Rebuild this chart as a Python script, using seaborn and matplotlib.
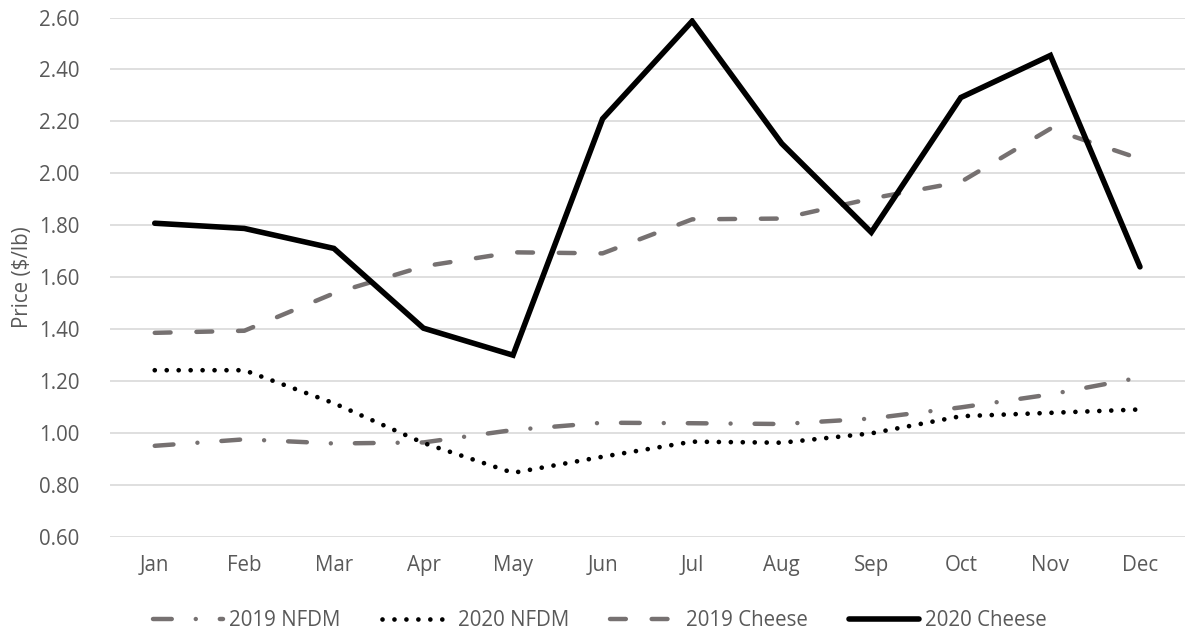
import matplotlib
matplotlib.use("Agg")
import matplotlib.pyplot as plt
import seaborn as sns
import pandas as pd

months = ["Jan", "Feb", "Mar", "Apr", "May", "Jun",
          "Jul", "Aug", "Sep", "Oct", "Nov", "Dec"]
nfdm_2019 = [0.951, 0.976, 0.960, 0.964, 1.012, 1.040,
             1.038, 1.035, 1.056, 1.099, 1.149, 1.214]
nfdm_2020 = [1.242, 1.242, 1.115, 0.962, 0.847, 0.909,
             0.967, 0.963, 0.999, 1.065, 1.078, 1.091]
cheese_2019 = [1.386, 1.394, 1.538, 1.642, 1.696, 1.692,
               1.823, 1.826, 1.903, 1.967, 2.172, 2.056]
cheese_2020 = [1.808, 1.788, 1.711, 1.404, 1.300, 2.210,
               2.586, 2.115, 1.773, 2.292, 2.454, 1.640]
y_ticks = [0.60, 0.80, 1.00, 1.20, 1.40, 1.60, 1.80, 2.00, 2.20, 2.40, 2.60]

sns.set_theme(style="white")
plt.rcParams["font.family"] = ["Open Sans", "DejaVu Sans"]
plt.rcParams["lines.scale_dashes"] = False

TEXT = "#595959"
GRAY = "#767171"
FS = 14.8

fig = plt.figure(figsize=(11.85, 6.37), dpi=100)
ax = fig.add_axes([0.0928, 0.157, 0.907, 0.8155])

series = [
    ("2019 NFDM", nfdm_2019, GRAY, 3.2, (13.5, 17.3, 0.01, 17.3)),
    ("2020 NFDM", nfdm_2020, "black", 3.4, (0.01, 8.6)),
    ("2019 Cheese", cheese_2019, GRAY, 3.2, (11.4, 18.6)),
    ("2020 Cheese", cheese_2020, "black", 4.0, None),
]

handles = []
for name, vals, color, lw, dash in series:
    df = pd.DataFrame({"month": months, "price": vals})
    sns.lineplot(data=df, x="month", y="price", ax=ax, color=color,
                 linewidth=lw, sort=False, legend=False)
    line = ax.lines[-1]
    line.set_label(name)
    line.set_solid_capstyle("round")
    line.set_solid_joinstyle("miter")
    if dash is not None:
        line.set_dashes(dash)
        line.set_dash_capstyle("round")
    handles.append(line)

ax.set_xlim(-0.5, len(months) - 0.5)
ax.set_ylim(0.6, 2.6)
ax.set_yticks(y_ticks)
ax.set_yticklabels([f"{v:.2f}" for v in y_ticks])
ax.grid(axis="y", color="#d9d9d9", linewidth=1.2)
ax.set_axisbelow(True)
for s in ax.spines.values():
    s.set_visible(False)
ax.tick_params(axis="both", length=0, labelsize=FS, labelcolor=TEXT)
ax.tick_params(axis="x", pad=13)
ax.tick_params(axis="y", pad=22)
ax.set_xlabel("")
ax.set_ylabel("Price ($/lb)", fontsize=FS, color=TEXT, labelpad=4)

fig.legend(handles=handles, labels=[h.get_label() for h in handles],
           loc="center", bbox_to_anchor=(600 / 1185, 1 - 621 / 637),
           ncol=4, frameon=False, fontsize=FS, labelcolor=TEXT,
           handlelength=3.4, handletextpad=0.3, columnspacing=2.0)

fig.savefig("out.png", dpi=100)
